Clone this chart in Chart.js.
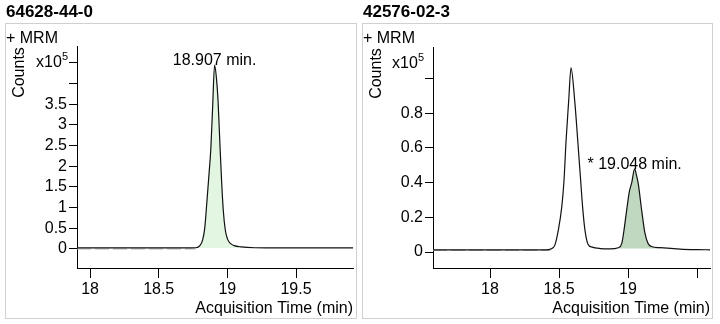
<!DOCTYPE html>
<html>
<head>
<meta charset="utf-8">
<script src="https://cdn.jsdelivr.net/npm/chart.js@4"></script>
<style>
  body { margin: 0; background: #fff; }
  #wrap { position: relative; width: 720px; height: 324px; }
  canvas { position: absolute; top: 0; }
  #left { left: 0; }
  #right { left: 360px; }
</style>
</head>
<body>
<div id="wrap">
  <canvas id="left" width="360" height="324"></canvas>
  <canvas id="right" width="360" height="324"></canvas>
</div>
<script>
const FONT = '"Liberation Sans", Arial, sans-serif';

// 64628-44-0 : time (min) / counts (x10^5)
const leftTime   = [17.905, 18.2, 18.5, 18.7, 18.77, 18.80, 18.82, 18.835, 18.85, 18.865, 18.88, 18.893, 18.907,
                    18.92, 18.932, 18.945, 18.958, 18.97, 18.985, 19.0, 19.02, 19.05, 19.1, 19.2, 19.4, 19.7, 19.915];
const leftCounts = [0.025, 0.025, 0.025, 0.025, 0.03, 0.08, 0.22, 0.50, 1.10, 1.75, 2.45, 3.45, 4.45,
                    4.15, 3.60, 2.60, 1.65, 0.95, 0.46, 0.25, 0.14, 0.08, 0.05, 0.03, 0.025, 0.025, 0.025];
const leftXTicks  = [18, 18.5, 19, 19.5];
const leftXLabels = ['18', '18.5', '19', '19.5'];
const leftYTicks  = [0, 0.5, 1, 1.5, 2, 2.5, 3, 3.5, 4, 4.5];
const leftYLabels = ['0', '0.5', '1', '1.5', '2', '2.5', '3', '3.5', '', ''];
const leftFillRange = [18.77, 19.2];
const leftBaseTime  = [17.905, 18.77];

// 42576-02-3
const rightTime   = [17.587, 17.8, 18.0, 18.2, 18.4, 18.44, 18.47, 18.495, 18.52, 18.536, 18.551, 18.570, 18.587,
                     18.614, 18.636, 18.657, 18.672, 18.688, 18.71, 18.74, 18.80, 18.87, 18.93, 18.955, 18.968,
                     18.99, 19.01, 19.027, 19.048, 19.062, 19.075, 19.099, 19.123, 19.145, 19.17, 19.232, 19.377, 19.5, 19.594];
const rightCounts = [0.012, 0.012, 0.012, 0.012, 0.013, 0.018, 0.04, 0.126, 0.26, 0.41, 0.64, 0.87, 1.062,
                     0.87, 0.64, 0.41, 0.25, 0.126, 0.045, 0.028, 0.02, 0.018, 0.025, 0.05, 0.11,
                     0.24, 0.35, 0.40, 0.48, 0.44, 0.39, 0.24, 0.107, 0.05, 0.032, 0.025, 0.017, 0.014, 0.013];
const rightXTicks  = [18, 18.5, 19, 19.5];
const rightXLabels = ['18', '18.5', '19', ''];
const rightYTicks  = [0, 0.2, 0.4, 0.6, 0.8, 1.0];
const rightYLabels = ['0', '0.2', '0.4', '0.6', '0.8', ''];
const rightFillRange = [18.93, 19.232];
const rightBaseTime  = [17.587, 18.44];

Chart.defaults.font.family = FONT;

function textPlugin(s, area) {
  return {
    id: 'panelText',
    afterDraw(chart) {
      const { ctx, chartArea: ca, scales: { x, y } } = chart;
      const [fx, fy, fw, fh] = s.frame;
      ctx.save();
      ctx.strokeStyle = '#d0d0d0';
      ctx.lineWidth = 1;
      ctx.strokeRect(fx, fy, fw, fh);

      ctx.fillStyle = '#000';
      ctx.textAlign = 'left';
      ctx.textBaseline = 'alphabetic';
      ctx.font = 'bold 17px ' + FONT;
      ctx.fillText(s.title, fx + 0.5, 16.5);
      ctx.font = '16px ' + FONT;
      ctx.fillText('+ MRM', fx + 0.5, fy + 19);

      ctx.save();
      ctx.translate(fx + 14, ca.top + 26.5);
      ctx.rotate(-Math.PI / 2);
      ctx.textAlign = 'center';
      ctx.textBaseline = 'middle';
      ctx.fillText('Counts', 0, 0);
      ctx.restore();

      // x10^5 multiplier
      ctx.textAlign = 'right';
      ctx.font = '11px ' + FONT;
      ctx.fillText('5', ca.left - 9, ca.top + 14);
      const w5 = ctx.measureText('5').width;
      ctx.font = '16px ' + FONT;
      ctx.fillText('x10', ca.left - 9 - w5, ca.top + 20.5);

      // retention time of the integrated (shaded) peak, written over its apex
      const apex = area.reduce((a, p) => (p.y > a.y ? p : a), area[0]);
      ctx.textAlign = 'center';
      ctx.fillText(s.mark + apex.x.toFixed(3) + ' min.', x.getPixelForValue(apex.x), y.getPixelForValue(apex.y));
      ctx.restore();
    }
  };
}

function panel(id, s) {
  const pts = s.time.map((t, i) => ({ x: t, y: s.counts[i] }));
  const area = pts.filter(p => p.x >= s.fillRange[0] && p.x <= s.fillRange[1]);
  const tickFont = { family: FONT, size: 16 };

  new Chart(document.getElementById(id), {
    type: 'line',
    data: {
      datasets: [
        { data: pts, borderColor: '#111', borderWidth: 1.2, pointRadius: 0, fill: false,
          cubicInterpolationMode: 'monotone', order: 0 },
        { data: s.baseTime.map(t => ({ x: t, y: s.baseLevel })), borderColor: '#b4b4b4', borderWidth: 1.2,
          borderDash: [14, 4], pointRadius: 0, fill: false, order: 1 },
        { data: area, borderColor: 'transparent', borderWidth: 0, backgroundColor: s.fillColor, pointRadius: 0,
          fill: { value: s.fillBase }, cubicInterpolationMode: 'monotone', order: 2 }
      ]
    },
    options: {
      responsive: false,
      animation: false,
      layout: { padding: s.padding },
      plugins: { legend: { display: false }, tooltip: { enabled: false } },
      scales: {
        x: {
          type: 'linear', min: s.xRange[0], max: s.xRange[1],
          afterBuildTicks: a => { a.ticks = s.xTicks.map(v => ({ value: v })); },
          afterFit: a => { a.height = 50; },
          ticks: { callback: (v, i) => s.xLabels[i], color: '#000', font: tickFont, padding: 2,
                   maxRotation: 0, autoSkip: false },
          grid: { drawOnChartArea: false, tickLength: 10, color: '#000' },
          border: { color: '#000' },
          title: { display: true, text: 'Acquisition Time (min)', align: 'end', color: '#000',
                   font: tickFont, padding: 0 }
        },
        y: {
          min: s.yRange[0], max: s.yRange[1],
          afterBuildTicks: a => { a.ticks = s.yTicks.map(v => ({ value: v })); },
          afterFit: a => { a.width = s.yWidth; },
          ticks: { callback: (v, i) => s.yLabels[i], color: '#000', font: tickFont, padding: 2, autoSkip: false },
          grid: { drawOnChartArea: false, tickLength: 8, color: '#000' },
          border: { color: '#000' }
        }
      }
    },
    plugins: [textPlugin(s, area)]
  });
}

panel('left', {
  title: '64628-44-0', mark: '',
  time: leftTime, counts: leftCounts,
  xTicks: leftXTicks, xLabels: leftXLabels, yTicks: leftYTicks, yLabels: leftYLabels,
  xRange: [17.905, 19.915], yRange: [-0.46, 4.91],
  fillRange: leftFillRange, fillBase: 0.025, fillColor: '#e2f6e2',
  baseTime: leftBaseTime, baseLevel: 0,
  padding: { left: 6, right: 7, top: 46, bottom: 6 }, yWidth: 71,
  frame: [5.5, 23.5, 351, 295]
});

panel('right', {
  title: '42576-02-3', mark: '* ',
  time: rightTime, counts: rightCounts,
  xTicks: rightXTicks, xLabels: rightXLabels, yTicks: rightYTicks, yLabels: rightYLabels,
  xRange: [17.587, 19.594], yRange: [-0.092, 1.182],
  fillRange: rightFillRange, fillBase: 0.02, fillColor: '#bfd8bf',
  baseTime: rightBaseTime, baseLevel: 0.01,
  padding: { left: 3, right: 10, top: 47, bottom: 6 }, yWidth: 70,
  frame: [2.5, 23.5, 350, 295]
});
</script>
</body>
</html>
